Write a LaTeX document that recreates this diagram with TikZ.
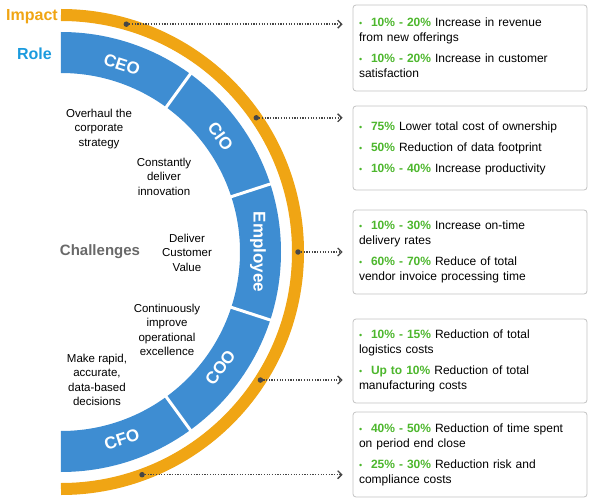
\documentclass[tikz,border=0pt]{standalone}
\usepackage{fontspec}
\setmainfont{Liberation Sans}
\usetikzlibrary{arrows.meta}

\definecolor{roleblue}{RGB}{62,141,210}
\definecolor{rolelabel}{RGB}{27,155,222}
\definecolor{impactorange}{RGB}{240,165,20}
\definecolor{kpigreen}{RGB}{77,183,45}
\definecolor{linkgray}{RGB}{70,70,70}
\definecolor{boxgray}{RGB}{195,195,195}
\definecolor{challengegray}{RGB}{105,105,105}

% one bullet of a box: green figure, then the text
\newcommand{\kpi}[2]{\hangindent=12pt\hangafter=1\noindent\makebox[12pt][l]{\textcolor{kpigreen}{\small\textbullet}}\textbf{\textcolor{kpigreen}{#1}} #2\par}

\tikzset{
  rolename/.style={text=white, font=\fontsize{17}{20}\selectfont\bfseries, inner sep=0pt},
  challenge/.style={align=center, font=\fontsize{11.5}{14.5}\selectfont, inner sep=0pt},
  heading/.style={font=\fontsize{16}{18}\selectfont\bfseries, inner sep=0pt},
  impactdot/.style={circle, fill=linkgray, inner sep=0pt, minimum size=5.5pt},
  kpibox/.style={draw=boxgray, line width=0.8pt, fill=white, rounded corners=3pt,
    text width=222pt, minimum height=84pt, inner xsep=6pt, inner ysep=0pt, align=left,
    font=\fontsize{12}{15}\selectfont, execute at begin node={\setlength{\parskip}{6pt}}},
  link/.style={linkgray, line width=1.5pt, dash pattern=on 1.2pt off 1.5pt,
    -{Straight Barb[length=4pt,width=8pt,line width=1.3pt]}, shorten >=10pt}
}

\begin{document}
\begin{tikzpicture}[x=1pt,y=1pt]
    \useasboundingbox (-61,-246) rectangle (539,252);

    % role ring
    \fill[roleblue] (90:179) arc[start angle=90,end angle=-90,radius=179]
        -- (-90:220) arc[start angle=-90,end angle=90,radius=220] -- cycle;
    \foreach \a in {54,18,-18,-54}
        \draw[white, line width=3pt] (\a:175) -- (\a:224);
    \foreach \a/\r/\name/\txt in {72/-18/ceo/CEO, 36/-54/cio/CIO, 0/-90/emp/Employee, -36/54/coo/COO, -72/18/cfo/CFO}
        \node[rolename, rotate=\r] (\name) at (\a:197) {\txt};

    % impact ring
    \draw[impactorange, line width=12pt] (90:237) arc[start angle=90,end angle=-90,radius=237];
    \foreach \a [count=\i] in {74,34.5,0,-32.7,-70}
        \node[impactdot] (d\i) at (\a:237) {};

    \node[heading, text=impactorange, anchor=base east] (impact) at (-3,231) {Impact};
    \node[heading, text=rolelabel, anchor=base east] (role) at (-9,192) {Role};
    \node[heading, font=\fontsize{15}{18}\selectfont\bfseries, text=challengegray, anchor=base] (challenges) at (39,-3) {Challenges};

    % challenges
    \node[challenge] (overhaul) at (38,123) {Overhaul the\\corporate\\strategy};
    \node[challenge] (innovate) at (103,75.5) {Constantly\\deliver\\innovation};
    \node[challenge] (value) at (126,-0.5) {Deliver\\Customer\\Value};
    \node[challenge] (improve) at (106,-78) {Continuously\\improve\\operational\\excellence};
    \node[challenge] (decide) at (36,-128) {Make rapid,\\accurate,\\data-based\\decisions};

    % impact boxes
    \node[kpibox, minimum height=86pt] (b1) at (409,204) {%
        \kpi{10\% - 20\%}{Increase in revenue\\from new offerings}
        \kpi{10\% - 20\%}{Increase in customer\\satisfaction}};
    \node[kpibox] (b2) at (409,104) {%
        \kpi{75\%}{Lower total cost of ownership}
        \kpi{50\%}{Reduction of data footprint}
        \kpi{10\% - 40\%}{Increase productivity}};
    \node[kpibox] (b3) at (409,0) {%
        \kpi{10\% - 30\%}{Increase on-time\\delivery rates}
        \kpi{60\% - 70\%}{Reduce of total\\vendor invoice processing time}};
    \node[kpibox] (b4) at (409,-109) {%
        \kpi{10\% - 15\%}{Reduction of total\\logistics costs}
        \kpi{Up to 10\%}{Reduction of total\\manufacturing costs}};
    \node[kpibox, minimum height=85pt] (b5) at (409,-202.5) {%
        \kpi{40\% - 50\%}{Reduction of time spent\\on period end close}
        \kpi{25\% - 30\%}{Reduction risk and\\compliance costs}};

    \foreach \i in {1,...,5}
        \draw[link] (d\i) -- (d\i -| b\i.west);
\end{tikzpicture}
\end{document}
